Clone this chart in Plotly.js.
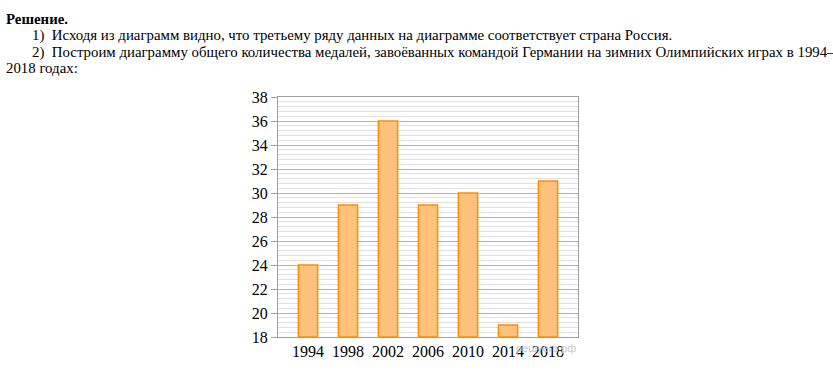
<!DOCTYPE html>
<html><head><meta charset="utf-8">
<script src="https://cdn.plot.ly/plotly-3.0.1.min.js"></script>
<style>
body{margin:0;padding:0;background:#fff;width:833px;height:371px;overflow:hidden;position:relative;}
#txt{position:absolute;left:6px;top:11px;width:827px;font-family:"Liberation Serif","Times New Roman",serif;font-size:14.85px;line-height:16.4px;color:#000;white-space:nowrap;}
#txt p{margin:0;}
#chart{position:absolute;left:0;top:0;width:833px;height:371px;}
</style></head>
<body>
<div id="chart"></div>
<div id="txt">
<p><b>Решение.</b></p>
<p style="text-indent:26px">1)&nbsp; Исходя из диаграмм видно, что третьему ряду данных на диаграмме соответствует страна Россия.</p>
<p style="text-indent:26px">2)&nbsp; Построим диаграмму общего количества медалей, завоёванных командой Германии на зимних Олимпийских играх в 1994–<br>2018 годах:</p>
</div>
<script>
const years = ["1994","1998","2002","2006","2010","2014","2018"];
const medals = [24, 29, 36, 29, 30, 19, 31];
const yTicks = [18,20,22,24,26,28,30,32,34,36,38];
const yFloor = 18;

const trace = {
  type: 'bar',
  x: years,
  y: medals.map(v => v - yFloor),
  base: yFloor,
  width: 0.48,
  marker: {color: 'rgb(255,194,124)', line: {color: 'rgb(255,140,0)', width: 1.5}},
  hoverinfo: 'none'
};

const layout = {
  width: 833, height: 371,
  margin: {l: 278, r: 255, t: 97, b: 34, pad: 0},
  paper_bgcolor: 'rgba(0,0,0,0)',
  plot_bgcolor: '#fff',
  showlegend: false,
  font: {family: '"Liberation Serif", "Times New Roman", serif', size: 16, color: '#000'},
  xaxis: {
    type: 'category',
    range: [-0.75, 6.75],
    showgrid: false,
    showline: true, linecolor: '#a0a0a0', linewidth: 1, mirror: true,
    ticks: '', ticklen: 0,
    tickfont: {size: 16, color: '#000'},
    fixedrange: true
  },
  yaxis: {
    range: [18, 38],
    tickvals: yTicks,
    ticktext: yTicks.map(String),
    showgrid: true, gridcolor: '#b4b4b4', gridwidth: 1,
    minor: {dtick: 0.4, tick0: 18, showgrid: true, gridcolor: '#e0e0e0', gridwidth: 1, ticks: ''},
    showline: true, linecolor: '#a0a0a0', linewidth: 1, mirror: true,
    ticks: 'outside', ticklen: 6, tickcolor: '#a0a0a0',
    tickfont: {size: 16, color: '#000'},
    zeroline: false,
    fixedrange: true
  },
  annotations: [{
    text: 'решуегэ.рф', xref: 'paper', yref: 'paper', x: 1.0, y: 0, yshift: -3,
    xanchor: 'right', yanchor: 'top', showarrow: false,
    font: {family: 'Arial, sans-serif', size: 11, color: '#c8c8c8'}
  }]
};
Plotly.newPlot('chart', [trace], layout, {staticPlot: true, displayModeBar: false});
</script>
</body></html>
